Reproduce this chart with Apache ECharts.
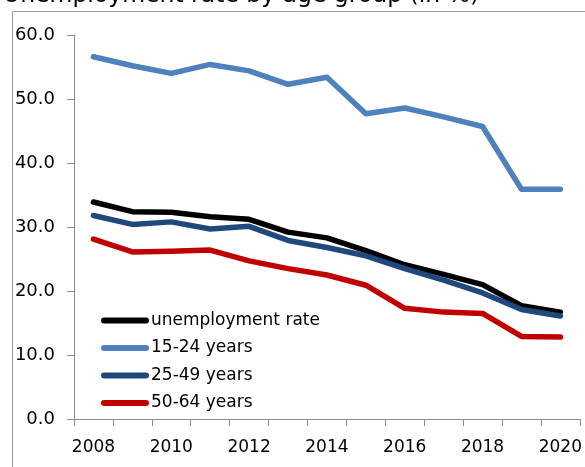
<!DOCTYPE html>
<html>
<head>
<meta charset="utf-8">
<script src="https://cdn.jsdelivr.net/npm/echarts@6/dist/echarts.min.js"></script>
<style>
  html, body { margin: 0; padding: 0; background: #fff; }
  #chart { width: 585px; height: 467px; }
</style>
</head>
<body>
<div id="chart"></div>
<script>
// dane
const years = ['2008', '2009', '2010', '2011', '2012', '2013', '2014', '2015', '2016', '2017', '2018', '2019', '2020'];
const unemploymentRate = [33.9, 32.4, 32.3, 31.6, 31.2, 29.2, 28.3, 26.3, 24.1, 22.6, 21.0, 17.7, 16.7];
const age15to24 = [56.6, 55.2, 54.0, 55.4, 54.4, 52.3, 53.4, 47.7, 48.6, 47.2, 45.7, 35.9, 35.9];
const age25to49 = [31.8, 30.4, 30.8, 29.7, 30.1, 27.9, 26.8, 25.5, 23.5, 21.7, 19.7, 17.1, 16.1];
const age50to64 = [28.1, 26.1, 26.2, 26.4, 24.7, 23.5, 22.5, 20.9, 17.3, 16.7, 16.5, 12.9, 12.8];
const yTicks = [0, 10, 20, 30, 40, 50, 60];

const font = 'DejaVu Sans';
const axisGray = '#8c8c8c';
const pillIcon = 'path://M3,0 L45,0 A3,3 0 0 1 45,6 L3,6 A3,3 0 0 1 3,0 Z';

const chart = echarts.init(document.getElementById('chart'));

const mkSeries = (name, data, color) => ({
  name: name,
  type: 'line',
  data: data,
  symbol: 'none',
  lineStyle: { color: color, width: 5.5, cap: 'round', join: 'round' },
  itemStyle: { color: color },
  z: 3
});

chart.setOption({
  animation: false,
  textStyle: { fontFamily: font },
  graphic: [
    {
      type: 'rect',
      shape: { x: 12.5, y: 11.5, width: 700, height: 600 },
      style: { fill: null, stroke: '#9a9a9a', lineWidth: 1 },
      silent: true
    },
    {
      type: 'text',
      x: 3,
      y: 7.5,
      style: {
        text: 'Unemployment rate by age group (in %)',
        font: '23.5px "DejaVu Sans"',
        fill: '#000',
        verticalAlign: 'bottom'
      }
    }
  ],
  grid: { left: 74, right: 5, top: 35, bottom: 48 },
  legend: {
    orient: 'vertical',
    left: 96,
    top: 307,
    itemWidth: 48,
    itemHeight: 6,
    itemGap: 10.5,
    icon: pillIcon,
    textStyle: { fontFamily: font, fontSize: 17, color: '#000', padding: [0, 0, 0, -3] },
    data: ['unemployment rate', '15-24 years', '25-49 years', '50-64 years']
  },
  xAxis: {
    type: 'category',
    data: years,
    boundaryGap: true,
    axisLine: { lineStyle: { color: axisGray, width: 1 } },
    axisTick: { show: true, interval: 0, length: 7, lineStyle: { color: axisGray } },
    axisLabel: { interval: 1, margin: 20, fontFamily: font, fontSize: 17, color: '#000' },
    splitLine: { show: false }
  },
  yAxis: {
    type: 'value',
    min: yTicks[0],
    max: yTicks[yTicks.length - 1],
    interval: 10,
    axisLine: { show: true, lineStyle: { color: axisGray, width: 1 } },
    axisTick: { show: true, length: 7, lineStyle: { color: axisGray } },
    axisLabel: { margin: 19, fontFamily: font, fontSize: 18, color: '#000', formatter: v => v.toFixed(1) },
    splitLine: { show: false }
  },
  series: [
    mkSeries('unemployment rate', unemploymentRate, '#000000'),
    mkSeries('15-24 years', age15to24, '#4f81bd'),
    mkSeries('25-49 years', age25to49, '#1f497d'),
    mkSeries('50-64 years', age50to64, '#c00000')
  ]
});
</script>
</body>
</html>
